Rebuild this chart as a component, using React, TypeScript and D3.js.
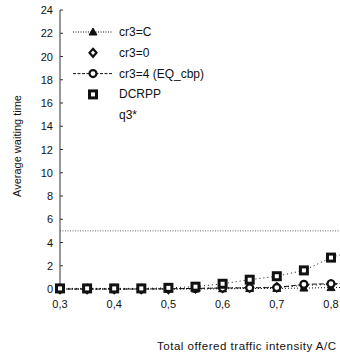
import * as d3 from 'd3'

// traffic intensity points (A/C)
const loads = [0.3, 0.35, 0.4, 0.45, 0.5, 0.55, 0.6, 0.65, 0.7, 0.75, 0.8, 0.85]
const cr3C = [0, 0, 0, 0, 0, 0, 0.02, 0.04, 0.05, 0.08, 0.12, 0.15]
const cr30 = [0, 0, 0, 0, 0, 0.05, 0.1, 0.12, 0.15, 0.3, 0.4, 0.45]
const cr34 = [0, 0, 0, 0, 0.02, 0.05, 0.08, 0.1, 0.12, 0.4, 0.45, 0.5]
const dcrpp = [0.05, 0.05, 0.05, 0.05, 0.1, 0.2, 0.45, 0.8, 1.1, 1.6, 2.7, 3.4]
const q3Star = 5

const yTicks = [0, 2, 4, 6, 8, 10, 12, 14, 16, 18, 20, 22, 24]
const xTicks = [0.3, 0.4, 0.5, 0.6, 0.7, 0.8]

const legendItems = ['cr3=C', 'cr3=0', 'cr3=4 (EQ_cbp)', 'DCRPP', 'q3*']

const W = 340
const H = 356
const FONT = '"Liberation Sans", Arial, sans-serif'
const INK = '#111'

function Marker({ kind, x, y }: { kind: string; x: number; y: number }) {
  if (kind === 'tri') {
    const p = `${x},${y - 4} ${x - 4},${y + 3} ${x + 4},${y + 3}`
    return <polygon points={p} fill={INK} stroke={INK} strokeWidth={1} />
  }
  if (kind === 'dia') {
    const p = `${x},${y - 4} ${x + 3.5},${y} ${x},${y + 4} ${x - 3.5},${y}`
    return <polygon points={p} fill="#fff" stroke={INK} strokeWidth={2.2} />
  }
  if (kind === 'circ') {
    return <circle cx={x} cy={y} r={3.5} fill="#fff" stroke={INK} strokeWidth={2.2} />
  }
  return <rect x={x - 3.5} y={y - 3.5} width={7} height={7} fill="#fff" stroke={INK} strokeWidth={3} />
}

export default function App() {
  const x = d3.scaleLinear().domain([0.3, 0.8]).range([60, 331])
  const y = d3.scaleLinear().domain([0, 24]).range([289, 10])

  const line = (vals: number[]) =>
    d3.line<number>().x((_, i) => x(loads[i])).y(v => y(v))(vals) || ''

  const series = [
    { vals: cr3C, kind: 'tri', dash: '1,2' },
    { vals: cr30, kind: 'dia', dash: '1,3' },
    { vals: cr34, kind: 'circ', dash: '5,2' },
    { vals: dcrpp, kind: 'sq', dash: '1,3' },
  ]

  return (
    <svg width={W} height={H} style={{ position: 'absolute', left: 0, top: 0, background: '#fff' }}>
      <rect width={W} height={H} fill="#fff" />

      {/* y axis */}
      <line x1={60} x2={60} y1={y(24)} y2={y(0)} stroke="#333" strokeWidth={1} />
      {yTicks.map(t => (
        <g key={t}>
          <line x1={60} x2={63} y1={y(t)} y2={y(t)} stroke="#333" />
          <text x={53} y={y(t) + 4} textAnchor="end" fontSize={11} fontFamily={FONT} fill={INK}>
            {t}
          </text>
        </g>
      ))}
      {xTicks.map(t => (
        <text key={t} x={x(t)} y={308} textAnchor="middle" fontSize={11} fontFamily={FONT} fill={INK}>
          {t.toFixed(1).replace('.', ',')}
        </text>
      ))}

      <text
        transform={`translate(21,146) rotate(-90)`}
        textAnchor="middle"
        fontSize={11}
        fontFamily={FONT}
        fill={INK}
      >
        Average waiting time
      </text>
      <text x={157} y={350} fontSize={11.5} fontFamily={FONT} fill={INK} textLength={179}>
        Total offered traffic intensity  A/C
      </text>

      {/* q3* threshold */}
      <line x1={60} x2={W} y1={y(q3Star)} y2={y(q3Star)} stroke="#444" strokeDasharray="1,1.5" strokeWidth={0.8} />

      {series.map((s, si) => (
        <g key={si}>
          <path d={line(s.vals)} fill="none" stroke={INK} strokeWidth={1} strokeDasharray={s.dash} />
          {s.vals.map((v, i) => (
            <Marker key={i} kind={s.kind} x={x(loads[i])} y={y(v)} />
          ))}
        </g>
      ))}

      {/* legend */}
      {legendItems.map((lab, i) => {
        const ly = 32 + i * 20.8
        return (
          <g key={lab}>
            {i === 0 && <line x1={73} x2={113} y1={ly} y2={ly} stroke={INK} strokeDasharray="1,1.5" />}
            {i === 2 && <line x1={73} x2={113} y1={ly} y2={ly} stroke={INK} strokeDasharray="3,1.5" />}
            {i === 0 && <Marker kind="tri" x={93} y={ly} />}
            {i === 1 && <Marker kind="dia" x={93} y={ly} />}
            {i === 2 && <Marker kind="circ" x={93} y={ly} />}
            {i === 3 && <Marker kind="sq" x={93} y={ly} />}
            <text x={119} y={ly + 4} fontSize={12} fontFamily={FONT} fill={INK}>
              {lab}
            </text>
          </g>
        )
      })}
    </svg>
  )
}
